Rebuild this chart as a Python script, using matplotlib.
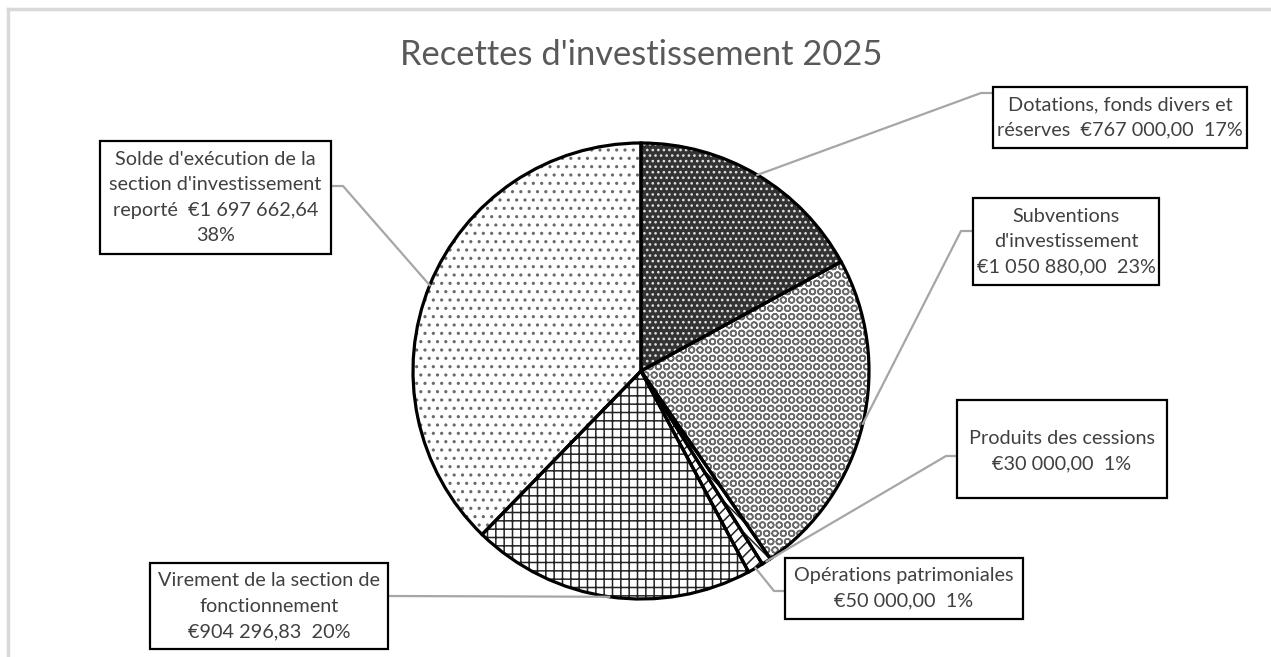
import numpy as np
import matplotlib.pyplot as plt
from matplotlib.patches import Rectangle

plt.rcParams['font.family'] = ['Lato', 'DejaVu Sans']
plt.rcParams['hatch.linewidth'] = 1.1

# data
categories = ["Dotations, fonds divers et réserves",
              "Subventions d'investissement",
              "Produits des cessions",
              "Opérations patrimoniales",
              "Virement de la section de fonctionnement",
              "Solde d'exécution de la section d'investissement reporté"]
values = [767000.00, 1050880.00, 30000.00, 50000.00, 904296.83, 1697662.64]
label_texts = ["Dotations, fonds divers et\nréserves  €767 000,00  17%",
               "Subventions\nd'investissement\n€1 050 880,00  23%",
               "Produits des cessions\n€30 000,00  1%",
               "Opérations patrimoniales\n€50 000,00  1%",
               "Virement de la section de\nfonctionnement\n€904 296,83  20%",
               "Solde d'exécution de la\nsection d'investissement\nreporté  €1 697 662,64\n38%"]

# styles
faces = ['#333333', 'white', 'white', 'white', 'white', 'white']
hatches = ['...', 'OO', '\\\\\\', '///', '++', '..']
hatch_cols = ['#e0e0e0', '#6a6a6a', '#222222', '#222222', '#222222', '#6a6a6a']

W, H = 1271, 657
cx, cy, R = 641, 371, 228

# label boxes (left, top, right, bottom) in pixels, elbow point, text y
boxes = [(993, 87, 1247, 148), (973, 198, 1159, 285), (957, 400, 1167, 498),
         (785, 558, 1023, 619), (150, 563, 388, 649), (100, 141, 331, 254)]
elbows = [(981, 93), (961, 231), (946, 456), (774, 591), (388, 596), (343, 186)]
anchors = [(993, 93), (973, 231), (957, 456), (785, 591), (388, 596), (331, 186)]
text_y = [None, None, 451, None, None, None]

fig = plt.figure(figsize=(W / 100, H / 100), dpi=100)
ax = fig.add_axes([0, 0, 1, 1])

def py(y):
    return H - y

wedges, _ = ax.pie(values, startangle=90, counterclock=False,
                   center=(cx, py(cy)), radius=R, frame=True,
                   wedgeprops=dict(linewidth=0))
for w, f, h, hc in zip(wedges, faces, hatches, hatch_cols):
    w.set_facecolor(f)
    w.set_edgecolor(hc)
    w.set_hatch(h)

# outlines on top
outl, _ = ax.pie(values, startangle=90, counterclock=False,
                 center=(cx, py(cy)), radius=R, frame=True,
                 wedgeprops=dict(facecolor='none', edgecolor='black', linewidth=2.3))

# leader lines and labels
fracs = np.array(values) / np.sum(values)
mids = np.cumsum(fracs) - fracs / 2
for i, txt in enumerate(label_texts):
    ang = np.deg2rad(90 - 360 * mids[i])
    px, pyy = cx + R * np.cos(ang), py(cy) + R * np.sin(ang)
    ex, ey = elbows[i]
    axx, ayy = anchors[i]
    ax.plot([px, ex, axx], [pyy, py(ey), py(ayy)], color='#a6a6a6', lw=1.6, zorder=1)
    l, t, r, b = boxes[i]
    ax.add_patch(Rectangle((l, py(b)), r - l, b - t, facecolor='white',
                           edgecolor='black', lw=1.6, zorder=3))
    ty = text_y[i] if text_y[i] is not None else (t + b) / 2
    ax.text((l + r) / 2, py(ty), txt, ha='center', va='center', fontsize=14.3,
            color='#404040', linespacing=1.6, zorder=4)

ax.text(641, py(55), "Recettes d'investissement 2025", ha='center', va='center',
        fontsize=24.8, color='#595959')

# chart area border
ax.plot([8, W], [py(9), py(9)], color='#d9d9d9', lw=2.5)
ax.plot([8, 8], [py(9), 0], color='#d9d9d9', lw=2.5)

ax.set_xlim(0, W)
ax.set_ylim(0, H)
ax.set_aspect('auto')
ax.axis('off')

fig.savefig('out.png', dpi=100, facecolor='white')
